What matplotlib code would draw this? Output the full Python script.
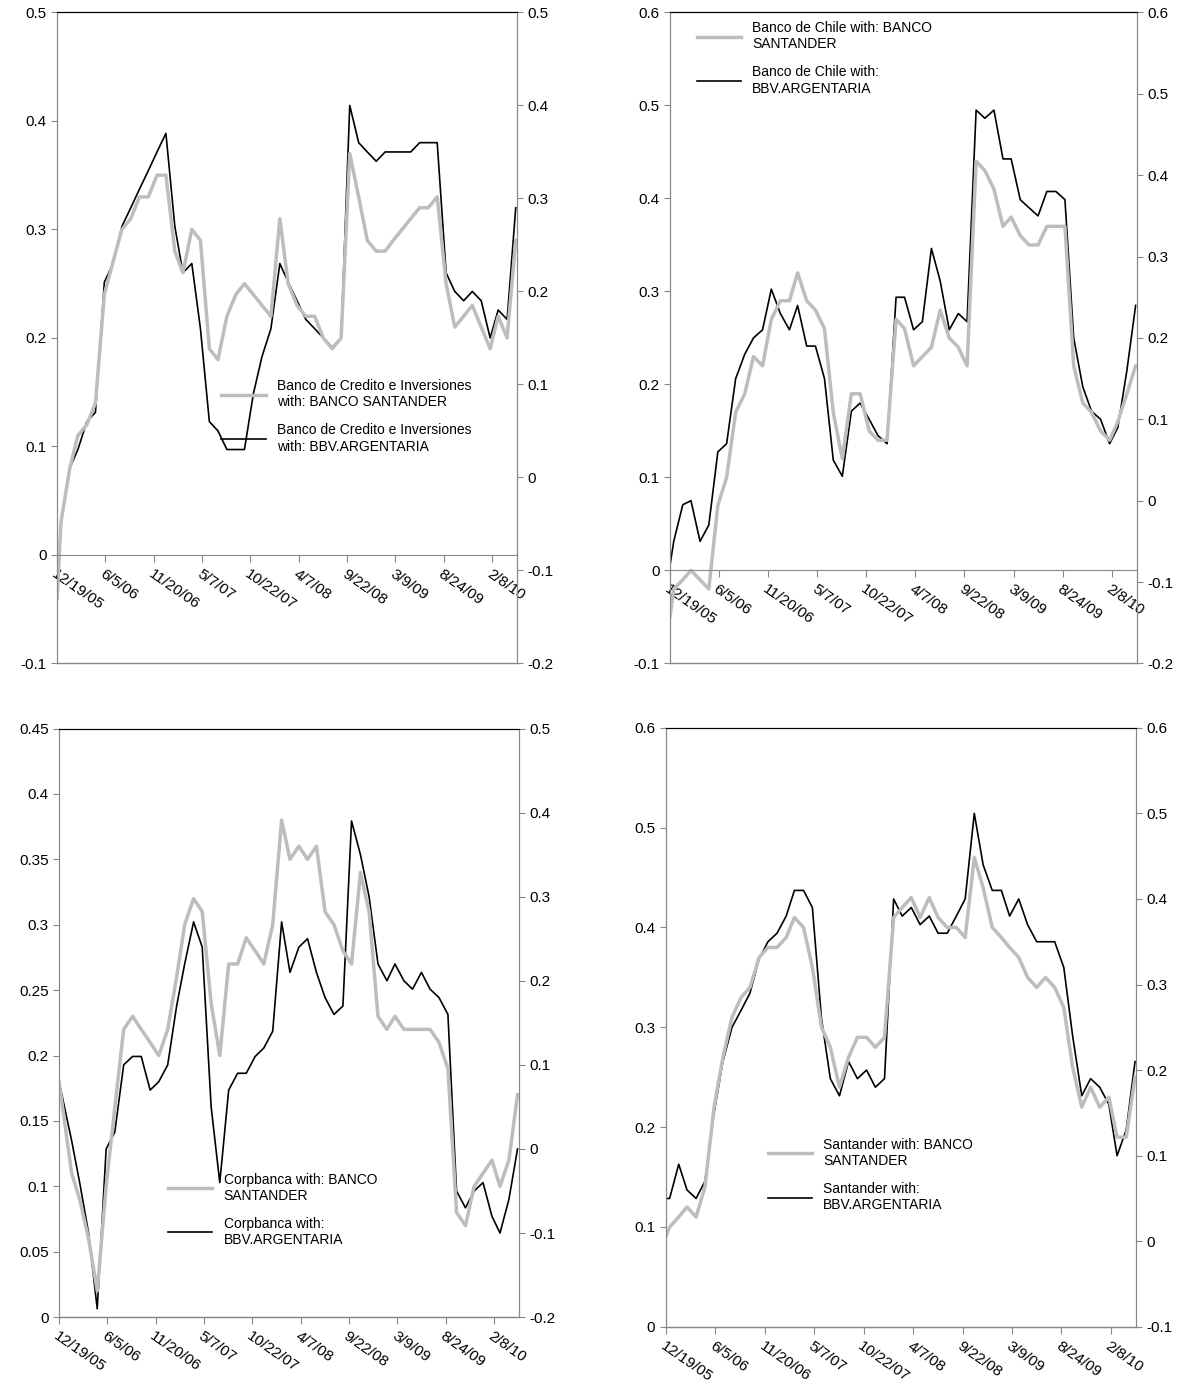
import pandas as pd
import numpy as np
import matplotlib
matplotlib.use('Agg')
import matplotlib.pyplot as plt

plt.rcParams['font.family'] = ['Liberation Sans', 'DejaVu Sans']

# dates: start point then month starts Jan 2006 .. May 2010
dates = pd.to_datetime(['2005-12-19'] + list(pd.date_range('2006-01-01', '2010-05-01', freq='MS').strftime('%Y-%m-%d')))

# panel 1 (left axis grey, right axis black)
bci_san = [-0.04, 0.03, 0.08, 0.11, 0.12, 0.14, 0.24, 0.27, 0.30, 0.31, 0.33, 0.33, 0.35, 0.35, 0.28, 0.26,
           0.30, 0.29, 0.19, 0.18, 0.22, 0.24, 0.25, 0.24, 0.23, 0.22, 0.31, 0.25, 0.23, 0.22, 0.22, 0.20,
           0.19, 0.20, 0.37, 0.33, 0.29, 0.28, 0.28, 0.29, 0.30, 0.31, 0.32, 0.32, 0.33, 0.25, 0.21, 0.22,
           0.23, 0.21, 0.19, 0.22, 0.20, 0.29]
bci_bbv = [-0.13, -0.05, 0.01, 0.03, 0.06, 0.07, 0.21, 0.23, 0.27, 0.29, 0.31, 0.33, 0.35, 0.37, 0.27, 0.22,
           0.23, 0.16, 0.06, 0.05, 0.03, 0.03, 0.03, 0.09, 0.13, 0.16, 0.23, 0.21, 0.19, 0.17, 0.16, 0.15,
           0.14, 0.15, 0.40, 0.36, 0.35, 0.34, 0.35, 0.35, 0.35, 0.35, 0.36, 0.36, 0.36, 0.22, 0.20, 0.19,
           0.20, 0.19, 0.15, 0.18, 0.17, 0.29]

# panel 2
chile_san = [-0.05, -0.02, -0.01, 0.00, -0.01, -0.02, 0.07, 0.10, 0.17, 0.19, 0.23, 0.22, 0.27, 0.29, 0.29,
             0.32, 0.29, 0.28, 0.26, 0.17, 0.12, 0.19, 0.19, 0.15, 0.14, 0.14, 0.27, 0.26, 0.22, 0.23, 0.24,
             0.28, 0.25, 0.24, 0.22, 0.44, 0.43, 0.41, 0.37, 0.38, 0.36, 0.35, 0.35, 0.37, 0.37, 0.37, 0.22,
             0.18, 0.17, 0.15, 0.14, 0.16, 0.19, 0.22]
chile_bbv = [-0.08, -0.05, -0.005, 0.0, -0.05, -0.03, 0.06, 0.07, 0.15, 0.18, 0.20, 0.21, 0.26, 0.23, 0.21,
             0.24, 0.19, 0.19, 0.15, 0.05, 0.03, 0.11, 0.12, 0.10, 0.08, 0.07, 0.25, 0.25, 0.21, 0.22, 0.31,
             0.27, 0.21, 0.23, 0.22, 0.48, 0.47, 0.48, 0.42, 0.42, 0.37, 0.36, 0.35, 0.38, 0.38, 0.37, 0.20,
             0.14, 0.11, 0.10, 0.07, 0.09, 0.16, 0.24]

# panel 3
corp_san = [0.18, 0.16, 0.11, 0.09, 0.06, 0.02, 0.10, 0.16, 0.22, 0.23, 0.22, 0.21, 0.20, 0.22, 0.26, 0.30,
            0.32, 0.31, 0.24, 0.20, 0.27, 0.27, 0.29, 0.28, 0.27, 0.30, 0.38, 0.35, 0.36, 0.35, 0.36, 0.31,
            0.30, 0.28, 0.27, 0.34, 0.31, 0.23, 0.22, 0.23, 0.22, 0.22, 0.22, 0.22, 0.21, 0.19, 0.08, 0.07,
            0.10, 0.11, 0.12, 0.10, 0.12, 0.17]
corp_bbv = [0.08, 0.06, 0.01, -0.04, -0.10, -0.19, 0.00, 0.02, 0.10, 0.11, 0.11, 0.07, 0.08, 0.10, 0.17,
            0.22, 0.27, 0.24, 0.05, -0.04, 0.07, 0.09, 0.09, 0.11, 0.12, 0.14, 0.27, 0.21, 0.24, 0.25, 0.21,
            0.18, 0.16, 0.17, 0.39, 0.35, 0.30, 0.22, 0.20, 0.22, 0.20, 0.19, 0.21, 0.19, 0.18, 0.16, -0.05,
            -0.07, -0.05, -0.04, -0.08, -0.10, -0.06, 0.0]

# panel 4
sant_san = [0.09, 0.10, 0.11, 0.12, 0.11, 0.14, 0.22, 0.27, 0.31, 0.33, 0.34, 0.37, 0.38, 0.38, 0.39, 0.41,
            0.40, 0.36, 0.30, 0.28, 0.24, 0.27, 0.29, 0.29, 0.28, 0.29, 0.41, 0.42, 0.43, 0.41, 0.43, 0.41,
            0.40, 0.40, 0.39, 0.47, 0.44, 0.40, 0.39, 0.38, 0.37, 0.35, 0.34, 0.35, 0.34, 0.32, 0.26, 0.22,
            0.24, 0.22, 0.23, 0.19, 0.19, 0.25]
sant_bbv = [0.05, 0.05, 0.09, 0.06, 0.05, 0.07, 0.15, 0.21, 0.25, 0.27, 0.29, 0.33, 0.35, 0.36, 0.38, 0.41,
            0.41, 0.39, 0.26, 0.19, 0.17, 0.21, 0.19, 0.20, 0.18, 0.19, 0.40, 0.38, 0.39, 0.37, 0.38, 0.36,
            0.36, 0.38, 0.40, 0.50, 0.44, 0.41, 0.41, 0.38, 0.40, 0.37, 0.35, 0.35, 0.35, 0.32, 0.24, 0.17,
            0.19, 0.18, 0.16, 0.10, 0.13, 0.21]

panels = [
    dict(pos=[0.048, 0.521, 0.386, 0.470], g=bci_san, k=bci_bbv, yl=(-0.1, 0.5, 0.1), yr=(-0.2, 0.5, 0.1),
         labels=['Banco de Credito e Inversiones\nwith: BANCO SANTANDER',
                 'Banco de Credito e Inversiones\nwith: BBV.ARGENTARIA'],
         leg=(0.345, 0.445)),
    dict(pos=[0.5625, 0.521, 0.392, 0.470], g=chile_san, k=chile_bbv, yl=(-0.1, 0.6, 0.1), yr=(-0.2, 0.6, 0.1),
         labels=['Banco de Chile with: BANCO\nSANTANDER', 'Banco de Chile with:\nBBV.ARGENTARIA'],
         leg=(0.045, 0.995)),
    dict(pos=[0.0495, 0.049, 0.386, 0.425], g=corp_san, k=corp_bbv, yl=(0, 0.45, 0.05), yr=(-0.2, 0.5, 0.1),
         labels=['Corpbanca with: BANCO\nSANTANDER', 'Corpbanca with:\nBBV.ARGENTARIA'],
         leg=(0.225, 0.255)),
    dict(pos=[0.559, 0.042, 0.395, 0.4325], g=sant_san, k=sant_bbv, yl=(0, 0.6, 0.1), yr=(-0.1, 0.6, 0.1),
         labels=['Santander with: BANCO\nSANTANDER', 'Santander with:\nBBV.ARGENTARIA'],
         leg=(0.205, 0.325)),
]

tick_dates = pd.date_range('2005-12-19', periods=10, freq='168D')
fig = plt.figure(figsize=(11.91, 13.85), dpi=100)
for p in panels:
    ax = fig.add_axes(p['pos'])
    ax2 = ax.twinx()
    l1, = ax.plot(dates, p['g'], color='#bdbdbd', lw=2.5)
    l2, = ax2.plot(dates, p['k'], color='black', lw=1.2)
    ax.set_xlim(pd.Timestamp('2005-12-19'), pd.Timestamp('2010-05-05'))
    lo, hi, st = p['yl']
    ticks = np.round(np.arange(lo, hi + st / 2, st), 2)
    ax.set_ylim(lo, hi)
    ax.set_yticks(ticks)
    ax.set_yticklabels([f'{v:g}' for v in ticks])
    lo, hi, st = p['yr']
    ticks = np.round(np.arange(lo, hi + st / 2, st), 2)
    ax2.set_ylim(lo, hi)
    ax2.set_yticks(ticks)
    ax2.set_yticklabels([f'{v:g}' for v in ticks])
    for a in (ax, ax2):
        a.spines['left'].set_color('#888888')
        a.spines['right'].set_color('#888888')
        a.spines['top'].set_color('black')
        a.tick_params(axis='y', colors='#888888', labelcolor='black', labelsize=11, direction='out', length=4)
    ax2.spines['bottom'].set_visible(False)
    ax.spines['bottom'].set_position(('data', 0))
    ax.spines['bottom'].set_color('#888888')
    ax.plot([0, 1], [0, 0], transform=ax.transAxes, color='#888888', lw=1, clip_on=False)
    ax.set_xticks(tick_dates)
    ax.set_xticklabels([f'{d.month}/{d.day}/{d.strftime("%y")}' for d in tick_dates])
    ax.tick_params(axis='x', colors='#888888', labelcolor='black', labelsize=11, direction='out', length=5)
    plt.setp(ax.get_xticklabels(), rotation=-35, ha='left', va='top', rotation_mode='anchor')
    ax.set_zorder(ax2.get_zorder() + 1)
    ax.patch.set_visible(False)
    ax.legend([l1, l2], p['labels'], loc='upper left', bbox_to_anchor=p['leg'], frameon=False,
              fontsize=10, handlelength=3.2, labelspacing=1.0, borderaxespad=0)

fig.savefig('out.png')
